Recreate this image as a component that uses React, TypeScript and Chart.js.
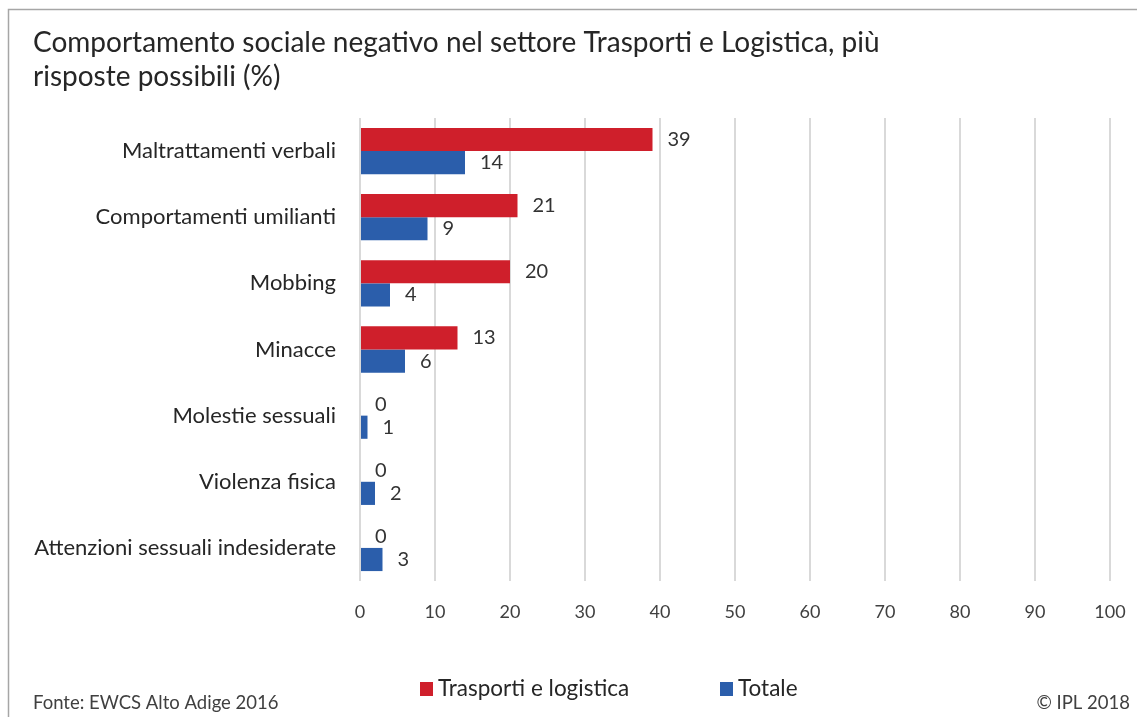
import React, { useEffect, useRef } from "react";
import { Chart, registerables } from "chart.js";

Chart.register(...registerables);

const titleLines = [
  "Comportamento sociale negativo nel settore Trasporti e Logistica, più",
  "risposte possibili (%)",
];
const categories = [
  "Maltrattamenti verbali",
  "Comportamenti umilianti",
  "Mobbing",
  "Minacce",
  "Molestie sessuali",
  "Violenza fisica",
  "Attenzioni sessuali indesiderate",
];
const seriesNames = ["Trasporti e logistica", "Totale"];
const trasporti = [39, 21, 20, 13, 0, 0, 0];
const totale = [14, 9, 4, 6, 1, 2, 3];
const seriesColors = ["#cf1f2b", "#2b5eab"];
const sourceText = "Fonte: EWCS Alto Adige 2016";
const copyrightText = "© IPL 2018";

const FONT = "Lato, 'Noto Sans', sans-serif";
const TEXT = "#262626";

const decorPlugin = {
  id: "decor",
  beforeDraw(chart: any) {
    const ctx = chart.ctx;
    ctx.save();
    ctx.fillStyle = "#ffffff";
    ctx.fillRect(0, 0, chart.width, chart.height);
    ctx.strokeStyle = "#a6a6a6";
    ctx.lineWidth = 1.5;
    ctx.beginPath();
    ctx.moveTo(8.5, chart.height);
    ctx.lineTo(8.5, 9.5);
    ctx.lineTo(chart.width, 9.5);
    ctx.stroke();
    ctx.restore();
  },
  afterDraw(chart: any) {
    const ctx = chart.ctx;
    ctx.save();
    // title
    ctx.fillStyle = TEXT;
    ctx.font = `28px ${FONT}`;
    ctx.textAlign = "left";
    ctx.textBaseline = "middle";
    titleLines.forEach((t, i) => ctx.fillText(t, 33, 43 + i * 34));

    // data labels
    ctx.font = `20px ${FONT}`;
    ctx.fillStyle = "#333333";
    chart.data.datasets.forEach((ds: any, di: number) => {
      const meta = chart.getDatasetMeta(di);
      meta.data.forEach((el: any, i: number) => {
        ctx.fillText(String(ds.data[i]), el.x + 15, el.y);
      });
    });

    // legend
    ctx.font = `22.5px ${FONT}`;
    const legendX = [420, 720];
    chart.data.datasets.forEach((ds: any, di: number) => {
      ctx.fillStyle = ds.backgroundColor;
      ctx.fillRect(legendX[di], 682, 13, 14);
      ctx.fillStyle = TEXT;
      ctx.fillText(ds.label, legendX[di] + 18, 689);
    });

    // footer
    ctx.font = `18.5px ${FONT}`;
    ctx.fillStyle = "#404040";
    ctx.textAlign = "left";
    ctx.fillText(sourceText, 33, 703);
    ctx.textAlign = "right";
    ctx.fillText(copyrightText, 1130, 703);
    ctx.restore();
  },
};

export default function App() {
  const ref = useRef<HTMLCanvasElement | null>(null);
  useEffect(() => {
    if (!ref.current) return;
    const chart = new Chart(ref.current, {
      type: "bar",
      data: {
        labels: categories,
        datasets: [
          {
            label: seriesNames[0],
            data: trasporti,
            backgroundColor: seriesColors[0],
            categoryPercentage: 0.7,
            barPercentage: 1,
          },
          {
            label: seriesNames[1],
            data: totale,
            backgroundColor: seriesColors[1],
            categoryPercentage: 0.7,
            barPercentage: 1,
          },
        ],
      },
      options: {
        indexAxis: "y",
        animation: false,
        responsive: false,
        devicePixelRatio: 1,
        layout: { padding: { top: 118, right: 27, left: 0, bottom: 0 } },
        plugins: {
          legend: { display: false },
          title: { display: false },
          tooltip: { enabled: false },
        },
        scales: {
          x: {
            min: 0,
            max: 100,
            ticks: {
              stepSize: 10,
              color: "#404040",
              font: { family: FONT, size: 18 },
              padding: 20,
            },
            grid: { color: "#d9d9d9", lineWidth: 2, drawTicks: false },
            border: { display: false },
            afterFit: (s: any) => {
              s.height = 136;
              s.paddingLeft = 0;
              s.paddingRight = 0;
            },
          },
          y: {
            ticks: {
              color: "#262626",
              font: { family: FONT, size: 22 },
              padding: 24,
            },
            grid: { display: false, drawTicks: false },
            border: { display: false },
            afterFit: (s: any) => {
              s.width = 360;
              s.paddingTop = 0;
              s.paddingBottom = 0;
            },
          },
        },
      },
      plugins: [decorPlugin],
    });
    return () => chart.destroy();
  }, []);
  return (
    <div style={{ position: "fixed", left: 0, top: 0, width: 1137, height: 717, background: "#fff" }}>
      <canvas ref={ref} width={1137} height={717} style={{ display: "block" }} />
    </div>
  );
}
